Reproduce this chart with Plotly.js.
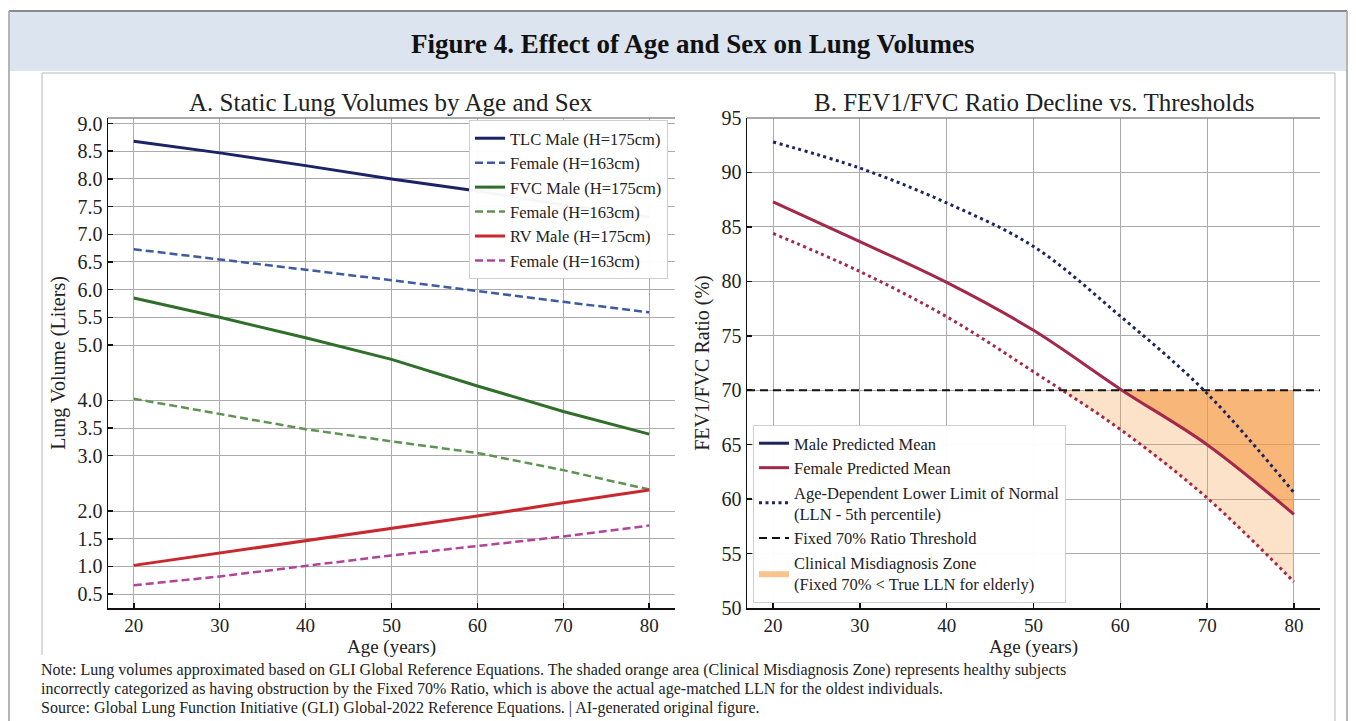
<!DOCTYPE html>
<html><head><meta charset="utf-8">
<script src="https://cdn.plot.ly/plotly-3.0.1.min.js"></script>
<style>html,body{margin:0;padding:0;background:#fff;} #chart{width:1356px;height:721px;}</style>
</head><body><div id="chart"></div>
<script>
// ---------- DATA ----------
const ages = [20, 30, 40, 50, 60, 70, 80];
const tlcMale   = [8.68, 8.47, 8.24, 8.00, 7.78, 7.53, 7.31];
const tlcFemale = [6.73, 6.55, 6.36, 6.17, 5.97, 5.78, 5.59];
const fvcMale   = [5.85, 5.50, 5.13, 4.74, 4.26, 3.80, 3.39];
const fvcFemale = [4.03, 3.75, 3.48, 3.26, 3.05, 2.74, 2.39];
const rvMale    = [1.02, 1.24, 1.47, 1.69, 1.91, 2.15, 2.38];
const rvFemale  = [0.66, 0.82, 1.01, 1.20, 1.37, 1.54, 1.74];

const ratioAges    = [20, 30, 40, 50, 60, 70, 80];
const upperLLN     = [92.8, 90.4, 87.2, 83.2, 76.8, 69.7, 60.6];
const femaleMean   = [87.3, 83.65, 79.9, 75.5, 70.1, 65.0, 58.6];
const femaleLLN    = [84.4, 80.9, 76.75, 71.7, 66.4, 60.1, 52.4];
// male predicted mean is listed in the legend but no line is drawn in the source figure
const maleMean     = [null, null, null, null, null, null, null];
const fixedThreshold = 70;

const xTicks  = [20, 30, 40, 50, 60, 70, 80];
const yTicksA = [9.0, 8.5, 8.0, 7.5, 7.0, 6.5, 6.0, 5.5, 5.0, 4.0, 3.5, 3.0, 2.0, 1.5, 1.0, 0.5];
const yTicksB = [50, 55, 60, 65, 70, 75, 80, 85, 90, 95];
const xRange  = [17, 83];

const noteLines = [
  'Note: Lung volumes approximated based on GLI Global Reference Equations. The shaded orange area (Clinical Misdiagnosis Zone) represents healthy subjects',
  'incorrectly categorized as having obstruction by the Fixed 70% Ratio, which is above the actual age-matched LLN for the oldest individuals.',
  'Source: Global Lung Function Initiative (GLI) Global-2022 Reference Equations. | AI-generated original figure.'
];

// ---------- HELPERS ----------
const W = 1356, H = 721;
const px = v => v / W;
const py = v => 1 - v / H;
const SERIF = '"Liberation Serif", "Times New Roman", serif';

// region between the threshold and a curve where the curve lies below it
function belowThreshold(xs, ys, t) {
  const cx = [], cy = [];
  for (let i = 0; i < xs.length; i++) {
    if (i > 0) {
      const y0 = ys[i - 1], y1 = ys[i];
      if ((y0 - t) * (y1 - t) < 0) {
        const f = (t - y0) / (y1 - y0);
        cx.push(xs[i - 1] + f * (xs[i] - xs[i - 1])); cy.push(t);
      }
    }
    if (ys[i] <= t) { cx.push(xs[i]); cy.push(ys[i]); }
  }
  const back = cx.slice().reverse();
  return { x: cx.concat(back), y: cy.concat(back.map(() => t)) };
}

const zoneLLN  = belowThreshold(ratioAges, femaleLLN, fixedThreshold);
const zoneMean = belowThreshold(ratioAges, femaleMean, fixedThreshold);

// ---------- TRACES ----------
const C = {
  tlcM: '#1b2366', tlcF: '#3d5b9e',
  fvcM: '#2f6f2a', fvcF: '#5f9352',
  rvM: '#c8282e',  rvF: '#b0449a',
  navy: '#1d2560', maroon: '#a3284a'
};
const dashA = '8px,4px';

const traces = [
  {x: ages, y: tlcMale,   name: 'TLC Male (H=175cm)', mode: 'lines', line: {color: C.tlcM, width: 3}, legend: 'legend'},
  {x: ages, y: tlcFemale, name: 'Female (H=163cm)',   mode: 'lines', line: {color: C.tlcF, width: 2.5, dash: dashA}, legend: 'legend'},
  {x: ages, y: fvcMale,   name: 'FVC Male (H=175cm)', mode: 'lines', line: {color: C.fvcM, width: 3}, legend: 'legend'},
  {x: ages, y: fvcFemale, name: 'Female (H=163cm)',   mode: 'lines', line: {color: C.fvcF, width: 2.5, dash: dashA}, legend: 'legend'},
  {x: ages, y: rvMale,    name: 'RV Male (H=175cm)',  mode: 'lines', line: {color: C.rvM, width: 3}, legend: 'legend'},
  {x: ages, y: rvFemale,  name: 'Female (H=163cm)',   mode: 'lines', line: {color: C.rvF, width: 2.5, dash: dashA}, legend: 'legend'},

  // panel B fills
  {x: zoneLLN.x, y: zoneLLN.y, xaxis: 'x2', yaxis: 'y2', mode: 'lines', fill: 'toself',
   fillcolor: 'rgba(247,160,80,0.30)', line: {width: 0}, showlegend: false, hoverinfo: 'skip'},
  {x: zoneMean.x, y: zoneMean.y, xaxis: 'x2', yaxis: 'y2', mode: 'lines', fill: 'toself',
   fillcolor: 'rgba(245,150,60,0.57)', line: {width: 0}, legend: 'legend2', legendrank: 5,
   name: 'Clinical Misdiagnosis Zone<br>(Fixed 70% &lt; True LLN for elderly)', hoverinfo: 'skip'},

  {x: ratioAges, y: maleMean, xaxis: 'x2', yaxis: 'y2', mode: 'lines', name: 'Male Predicted Mean',
   line: {color: C.navy, width: 3}, legend: 'legend2', legendrank: 1, showlegend: true},
  {x: ratioAges, y: femaleMean, xaxis: 'x2', yaxis: 'y2', mode: 'lines', name: 'Female Predicted Mean',
   line: {color: C.maroon, width: 3, shape: 'spline'}, legend: 'legend2', legendrank: 2},
  {x: ratioAges, y: upperLLN, xaxis: 'x2', yaxis: 'y2', mode: 'lines',
   name: 'Age-Dependent Lower Limit of Normal<br>(LLN - 5th percentile)',
   line: {color: C.navy, width: 3, dash: '3px,3.5px', shape: 'spline'}, legend: 'legend2', legendrank: 3},
  {x: ratioAges, y: femaleLLN, xaxis: 'x2', yaxis: 'y2', mode: 'lines', showlegend: false,
   line: {color: C.maroon, width: 3, dash: '3px,3.5px', shape: 'spline'}},
  {x: xRange, y: xRange.map(() => fixedThreshold), xaxis: 'x2', yaxis: 'y2', mode: 'lines',
   name: 'Fixed 70% Ratio Threshold', line: {color: '#111', width: 2, dash: '8px,5px'},
   legend: 'legend2', legendrank: 4}
];

// ---------- LAYOUT ----------
const tickFont = {family: SERIF, size: 19, color: '#222'};
const titleFont = {family: SERIF, size: 19, color: '#222'};
function xAxis(d0, d1, anchor) {
  return {domain: [px(d0), px(d1)], range: xRange, tickvals: xTicks, anchor: anchor,
    ticks: 'inside', ticklen: 5, tickwidth: 1.5, tickcolor: '#111',
    showline: true, linecolor: '#111', linewidth: 1.5, showgrid: true, gridcolor: '#ababab', gridwidth: 1,
    zeroline: false, tickfont: tickFont, title: {text: 'Age (years)', font: titleFont, standoff: 0}, fixedrange: true};
}
function yAxis(range, ticks, ttext, title, anchor) {
  return {domain: [py(608), py(118)], range: range, tickvals: ticks, ticktext: ttext, anchor: anchor,
    ticks: 'inside', ticklen: 5, tickwidth: 1.5, tickcolor: '#111',
    showline: true, linecolor: '#111', linewidth: 1.5, showgrid: true, gridcolor: '#ababab', gridwidth: 1,
    zeroline: false, tickfont: {family: SERIF, size: 20, color: '#222'}, title: {text: title, font: {family: SERIF, size: 20, color: '#222'}, standoff: 6}, fixedrange: true};
}

const shapes = [
  // header band
  {type: 'rect', xref: 'paper', yref: 'paper', x0: px(9), x1: px(1347), y0: py(71), y1: py(11),
   fillcolor: '#dce4ef', line: {width: 0}, layer: 'below'},
  {type: 'line', xref: 'paper', yref: 'paper', x0: px(9), x1: px(1347), y0: py(11), y1: py(11),
   line: {color: '#8a8a8a', width: 2}},
  // outer frame sides
  {type: 'line', xref: 'paper', yref: 'paper', x0: px(9), x1: px(9), y0: py(11), y1: 0, line: {color: '#b5b5b5', width: 2}},
  {type: 'line', xref: 'paper', yref: 'paper', x0: px(1347), x1: px(1347), y0: py(11), y1: 0, line: {color: '#b5b5b5', width: 2}},
  // inner panel
  {type: 'line', xref: 'paper', yref: 'paper', x0: px(42), x1: px(1335), y0: py(73), y1: py(73), line: {color: '#d0d0d0', width: 1.5}},
  {type: 'line', xref: 'paper', yref: 'paper', x0: px(42), x1: px(42), y0: py(73), y1: py(655), line: {color: '#d0d0d0', width: 1.5}},
  {type: 'line', xref: 'paper', yref: 'paper', x0: px(1335), x1: px(1335), y0: py(73), y1: py(721), line: {color: '#d0d0d0', width: 1.5}},
  // top borders of both plot areas
  {type: 'line', xref: 'x domain', yref: 'y domain', x0: 0, x1: 1, y0: 1, y1: 1, line: {color: '#8c8c8c', width: 1.5}},
  {type: 'line', xref: 'x2 domain', yref: 'y2 domain', x0: 0, x1: 1, y0: 1, y1: 1, line: {color: '#8c8c8c', width: 1.5}}
];

const noteFont = {family: SERIF, size: 16, color: '#222'};
const noteY = [670, 689, 708];
const annotations = [
  {text: '<b>Figure 4. Effect of Age and Sex on Lung Volumes</b>', x: px(693), y: py(44), xref: 'paper', yref: 'paper',
   xanchor: 'center', yanchor: 'middle', showarrow: false, font: {family: SERIF, size: 27, color: '#111'}},
  {text: 'A. Static Lung Volumes by Age and Sex', x: px(391), y: py(103), xref: 'paper', yref: 'paper',
   xanchor: 'center', yanchor: 'middle', showarrow: false, font: {family: SERIF, size: 25, color: '#222'}},
  {text: 'B. FEV1/FVC Ratio Decline vs. Thresholds', x: px(1034), y: py(103), xref: 'paper', yref: 'paper',
   xanchor: 'center', yanchor: 'middle', showarrow: false, font: {family: SERIF, size: 25, color: '#222'}}
].concat(noteLines.map((t, i) => ({
  text: t, x: px(40), y: py(noteY[i]), xref: 'paper', yref: 'paper', xanchor: 'left', yanchor: 'middle',
  showarrow: false, font: noteFont, borderpad: 0
})));

const legendFont = {family: SERIF, size: 16.5, color: '#222'};
const layout = {
  width: W, height: H, autosize: false,
  margin: {l: 0, r: 0, t: 0, b: 0},
  paper_bgcolor: '#ffffff', plot_bgcolor: '#ffffff',
  font: {family: SERIF, color: '#222'},
  xaxis: xAxis(108, 675, 'y'),
  yaxis: yAxis([0.25, 9.1], yTicksA, yTicksA.map(v => v.toFixed(1)), 'Lung Volume (Liters)', 'x'),
  xaxis2: xAxis(747, 1320, 'y2'),
  yaxis2: yAxis([50, 95], yTicksB, yTicksB.map(String), 'FEV1/FVC Ratio (%)', 'x2'),
  legend: {x: px(668), y: py(120), xanchor: 'right', yanchor: 'top', bgcolor: 'rgba(255,255,255,0.96)',
    bordercolor: '#cfcfcf', borderwidth: 1, font: legendFont, tracegroupgap: 0, itemwidth: 30},
  legend2: {x: px(753), y: py(603), xanchor: 'left', yanchor: 'bottom', bgcolor: 'rgba(255,255,255,0.96)',
    bordercolor: '#cfcfcf', borderwidth: 1, font: legendFont, tracegroupgap: 0, itemwidth: 30, traceorder: 'normal'},
  shapes: shapes,
  annotations: annotations,
  showlegend: true
};

Plotly.newPlot('chart', traces, layout, {staticPlot: true, displayModeBar: false});
</script>
</body></html>
